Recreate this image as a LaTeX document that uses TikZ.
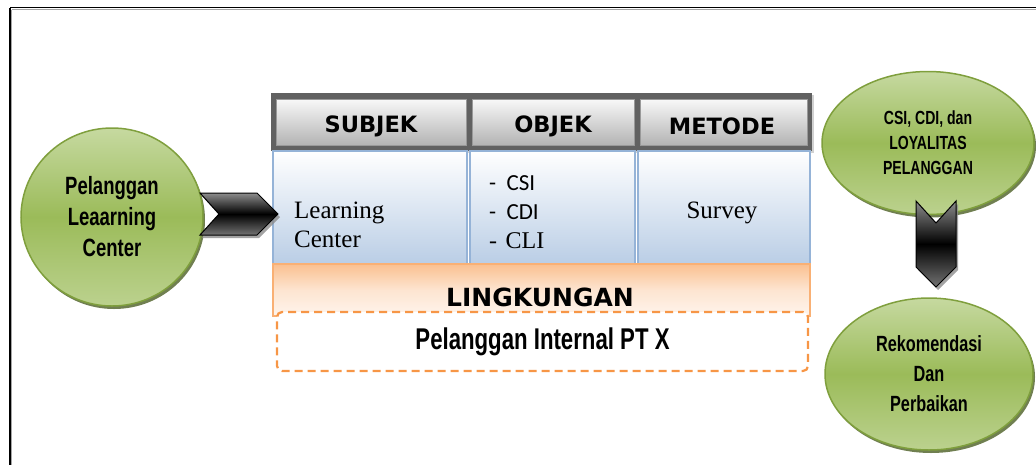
\documentclass[tikz,border=0pt]{standalone}
\usepackage{fontspec}
\newfontfamily\agency{Liberation Sans}[FakeStretch=0.74]
\newfontfamily\comic{DejaVu Sans}
\newfontfamily\tnr{Liberation Serif}
\newfontfamily\calib{Carlito}
\usetikzlibrary{shapes.geometric,shadows}
\definecolor{ggreen}{HTML}{9BBB59}
\definecolor{glight}{HTML}{C6D9A0}
\definecolor{gdark}{HTML}{7F9F3D}
\definecolor{bblue}{HTML}{95B3D7}
\definecolor{blight}{HTML}{B9CDE5}
\definecolor{oor}{HTML}{F79646}
\begin{document}
\begin{tikzpicture}[x=1pt,y=-1pt,
  bubble/.style={ellipse, draw=gdark, line width=1.5pt, top color=glight, bottom color=glight!75!ggreen, middle color=ggreen, inner sep=0pt, align=center,
    drop shadow={shadow xshift=2pt, shadow yshift=-3pt, fill=gdark!60!black, opacity=0.8}},
  hdr/.style={rectangle, draw=black!40, line width=0.8pt, top color=black!3, bottom color=black!30, inner sep=0pt},
  hdrtext/.style={inner sep=0pt, font=\comic\bfseries\fontsize{22.5}{26}\selectfont},
  cell/.style={rectangle, draw=bblue, line width=2pt, top color=white, bottom color=blight, inner sep=0pt},
  chev/.style={draw=black, line width=1pt, top color=black!45, bottom color=black!55, middle color=black,
    drop shadow={shadow xshift=2pt, shadow yshift=-3pt, fill=black!45, opacity=0.8}},
  txt/.style={inner sep=0pt},
]
\useasboundingbox (0,0) rectangle (1036,464);
% frame
\draw[black!35, line width=1.2pt] (11.5,9.5) -- (1040,9.5);
\draw[black!35, line width=1.2pt] (11.5,9.5) -- (11.5,470);
\draw[black, line width=1.5pt] (10,7.5) -- (1040,7.5);
\draw[black, line width=1.5pt] (10,7.5) -- (10,470);

% left circle
\node[bubble, minimum width=182, minimum height=178, font=\agency\bfseries\fontsize{25}{31}\selectfont] (cust) at (112,217) {Pelanggan\\Leaarning\\Center};

% header band
\node[fill=black!62, minimum width=541, minimum height=58, inner sep=0pt,
  drop shadow={shadow xshift=2pt, shadow yshift=-2pt, fill=black!30, opacity=0.6}] (band) at (541.5,122) {};
\node[hdr, minimum width=190, minimum height=46] (hs) at (371,122.5) {};
\node[hdr, minimum width=162, minimum height=46] (ho) at (553,122.5) {};
\node[hdr, minimum width=167, minimum height=46] (hm) at (723.5,122.5) {};
\node[hdrtext] (hst) at (371,126.5) {SUBJEK};
\node[hdrtext] (hot) at (553,126.5) {OBJEK};
\node[hdrtext] (hmt) at (722,126.5) {METODE};

% body cells
\node[cell, minimum width=194, minimum height=114] (bs) at (370,208) {};
\node[cell, minimum width=165, minimum height=114] (bo) at (552.5,208) {};
\node[cell, minimum width=172, minimum height=114] (bm) at (724,208) {};
\node[txt, anchor=west, align=left, font=\tnr\fontsize{25}{29.5}\selectfont] (lc) at (294,225) {Learning\\Center};
\node[txt, anchor=west, font=\calib\fontsize{23}{26}\selectfont] (o1) at (489,183) {-\hspace{0.45em}CSI};
\node[txt, anchor=west, font=\calib\fontsize{23}{26}\selectfont] (o2) at (489,212) {-\hspace{0.45em}CDI};
\node[txt, anchor=west, font=\tnr\fontsize{24}{26}\selectfont] (o3) at (489,241) {-\hspace{0.35em}CLI};
\node[txt, font=\tnr\fontsize{25}{29}\selectfont] (sv) at (722,213) {Survey};

% environment
\node[rectangle, draw=oor!75, line width=1.5pt, top color=oor!60, bottom color=oor!10, middle color=oor!25, minimum width=537, minimum height=52, inner sep=0pt] (env) at (541.5,290) {};
\node[txt, font=\comic\bfseries\fontsize{25}{28}\selectfont] (envt) at (540,297) {LINGKUNGAN};
\node[draw=oor, fill=white, dash pattern=on 8pt off 5pt, line width=2.2pt, rounded corners=5pt, minimum width=531, minimum height=59, inner sep=0pt,
  font=\agency\bfseries\fontsize{30}{34}\selectfont] (internal) at (542.5,341.5) {Pelanggan Internal PT X};

% right ellipses
\node[bubble, minimum width=212, minimum height=143, font=\agency\bfseries\fontsize{19}{25}\selectfont] (res) at (928,143) {CSI, CDI, dan\\LOYALITAS\\PELANGGAN};
\node[bubble, minimum width=208, minimum height=152, font=\agency\bfseries\fontsize{22}{30}\selectfont] (rek) at (929,374) {Rekomendasi\\Dan\\Perbaikan};

% chevrons
\path[chev] (200,193) -- (257,193) -- (278,214) -- (257,235) -- (200,235) -- (219,214) -- cycle;
\path[chev] (916,201) -- (936,223) -- (956,201) -- (956,267) -- (936,287) -- (916,267) -- cycle;
\end{tikzpicture}
\end{document}
